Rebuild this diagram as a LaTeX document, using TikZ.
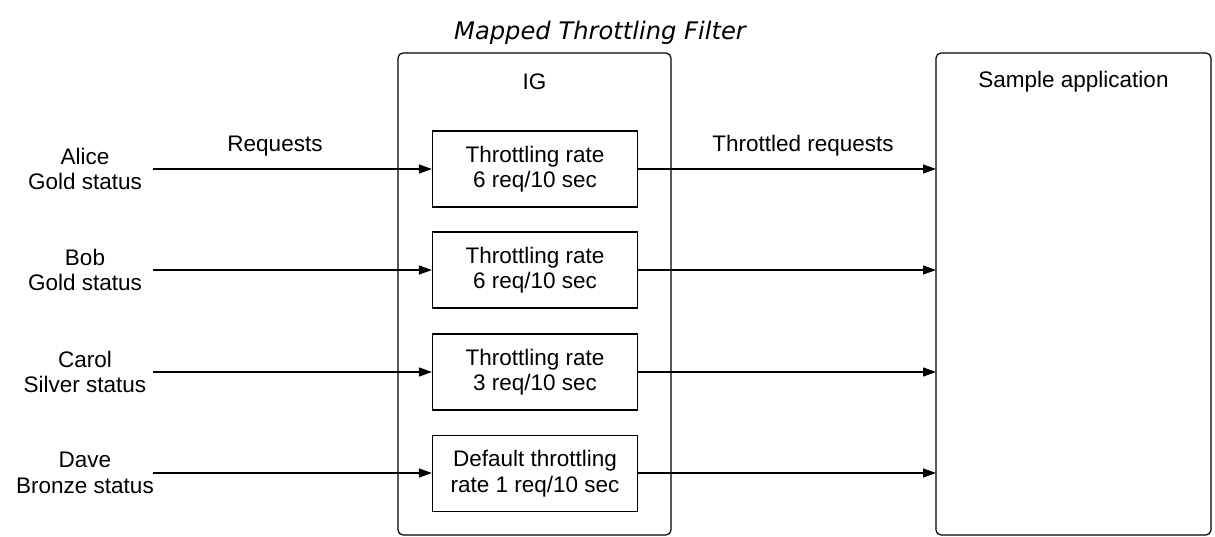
\documentclass[tikz,border=0pt]{standalone}
\usepackage{fontspec}
\setmainfont{Liberation Sans}
\newfontfamily\titlefont{DejaVu Sans}
\usetikzlibrary{arrows.meta}
\begin{document}
\begin{tikzpicture}[x=1pt,y=-1pt,
  every node/.style={font=\fontsize{22.5}{25.5}\selectfont, align=center, inner sep=0pt},
  outerbox/.style={draw, line width=1.2pt, rounded corners=5pt},
  ratebox/.style={draw, line width=1.2pt, minimum width=205pt, minimum height=76pt},
  conn/.style={line width=1.2pt, -{Triangle[length=13pt,width=9pt]}}]
\useasboundingbox (0,0) rectangle (1215,536);
\node (title) at (600,33) {\titlefont\itshape\fontsize{24.2}{28}\selectfont Mapped Throttling Filter};
\draw[outerbox] (398,53) rectangle (671,535);
\draw[outerbox] (936,53) rectangle (1211,535);
\node (ig) at (534.5,82) {IG};
\node (app) at (1073.5,82) {Sample application};
\coordinate (appL1) at (936,169);
\coordinate (appL2) at (936,270);
\coordinate (appL3) at (936,372);
\coordinate (appL4) at (936,473);
\node[ratebox] (r1) at (535,169) {Throttling rate\\6 req/10 sec};
\node[ratebox] (r2) at (535,270) {Throttling rate\\6 req/10 sec};
\node[ratebox] (r3) at (535,372) {Throttling rate\\3 req/10 sec};
\node[ratebox] (r4) at (535,473.5) {Default throttling\\rate 1 req/10 sec};
\node (u1) at (85,169) {Alice\\Gold status};
\node (u2) at (85,270) {Bob\\Gold status};
\node (u3) at (85,372) {Carol\\Silver status};
\node (u4) at (85,473) {Dave\\Bronze status};
\coordinate (s1) at (153,169);
\coordinate (s2) at (153,270);
\coordinate (s3) at (153,372);
\coordinate (s4) at (153,473);
\draw[conn] (s1) -- (r1.west);
\draw[conn] (s2) -- (r2.west);
\draw[conn] (s3) -- (r3.west);
\draw[conn] (s4) -- (r4.west |- s4);
\draw[conn] (r1.east) -- (appL1);
\draw[conn] (r2.east) -- (appL2);
\draw[conn] (r3.east) -- (appL3);
\draw[conn] (r4.east |- appL4) -- (appL4);
\node (req) at (275,146) {Requests};
\node (treq) at (803,146) {Throttled requests};
\end{tikzpicture}
\end{document}
